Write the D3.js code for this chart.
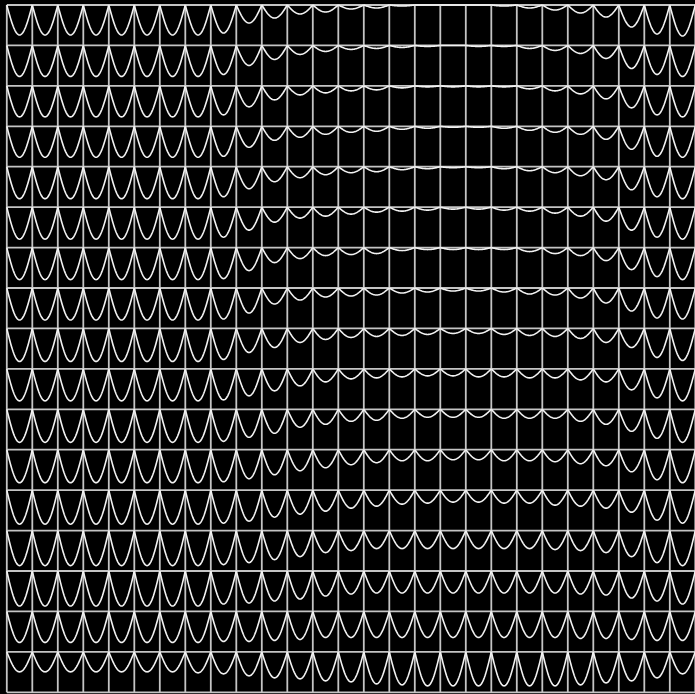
<!DOCTYPE html>
<html><head><meta charset="utf-8">
<script src="https://cdn.jsdelivr.net/npm/d3@7"></script>
<style>html,body{margin:0;padding:0;background:#000;overflow:hidden}</style>
</head><body>
<svg id="c" width="695" height="694"></svg>
<script>
// depth of the dip in each cell (0..40.4 = full cell height), rows top->bottom, cols left->right
const row00 = [30,30,30,30,30,30,30,30,28,18,13,9,7,4,3,1,0,0,0,1,3,5,8,12,22,29,31];
const row01 = [31,31,31,31,31,31,31,31,29,20,14,9,6,4,3,2,1,0,1,1,3,5,8,13,23,29,31];
const row02 = [31,31,31,31,31,31,31,31,29,21,14,9,7,5,4,2,1,1,1,1,3,5,8,13,22,29,31];
const row03 = [31,31,31,31,31,31,31,31,30,21,14,11,8,6,5,3,2,1,1,2,4,6,8,13,23,30,31];
const row04 = [32,32,32,32,32,32,32,32,30,22,15,11,8,6,5,3,2,1,1,2,4,6,9,13,23,30,32];
const row05 = [32,32,32,32,32,32,32,32,30,23,15,11,9,7,5,4,3,2,2,3,4,6,9,14,23,30,32];
const row06 = [32,32,32,32,32,32,32,32,31,23,15,11,8,7,6,3,2,2,2,2,4,6,8,13,22,29,32];
const row07 = [32,32,32,32,32,32,32,32,31,25,16,12,9,8,7,5,4,3,3,4,6,7,10,15,23,30,31];
const row08 = [33,33,33,33,33,33,33,33,31,24,19,14,11,9,8,7,6,5,5,6,7,8,10,14,19,29,32];
const row09 = [32,32,32,32,32,32,32,32,31,27,22,17,13,10,9,8,7,7,8,8,9,9,11,13,21,29,32];
const row10 = [33,33,33,33,33,33,33,33,32,28,24,18,15,12,11,9,8,8,8,9,9,9,12,15,22,29,33];
const row11 = [33,33,33,33,33,33,33,33,32,29,25,21,18,15,13,11,11,10,10,11,11,12,14,16,22,30,33];
const row12 = [34,34,34,34,34,34,34,34,33,31,27,24,21,18,16,14,13,12,12,13,13,15,16,18,22,30,33];
const row13 = [35,35,35,35,35,35,35,35,34,32,29,26,22,20,18,18,18,18,18,18,18,19,20,22,26,32,35];
const row14 = [35,35,35,35,35,35,35,35,33,32,30,28,25,23,22,22,22,22,22,22,22,22,23,24,27,30,33];
const row15 = [31,31,31,31,31,31,31,31,30,30,29,28,26,26,26,26,26,26,26,26,26,26,27,27,28,29,29];
const row16 = [20,20,20,20,20,20,20,21,22,24,26,27,29,30,32,33,34,34,34,34,34,34,33,31,29,26,22];
const depths = [row00,row01,row02,row03,row04,row05,row06,row07,row08,row09,row10,row11,row12,row13,row14,row15,row16];
const nRows = depths.length, nCols = row00.length;

const svg = d3.select("#c");
svg.append("rect").attr("width",695).attr("height",694).attr("fill","#000");

const x = d3.scaleLinear().domain([0,nCols]).range([6.8,695.3]);
const y = d3.scaleLinear().domain([0,nRows]).range([5,692.3]);
const cellH = y(1)-y(0);
const dScale = d3.scaleLinear().domain([0,40.4]).range([0,cellH]);

// grid
const g = svg.append("g");
g.selectAll("line.v").data(d3.range(nCols+1)).join("line")
  .attr("x1",d=>x(d)).attr("x2",d=>x(d)).attr("y1",y(0)).attr("y2",y(nRows))
  .attr("stroke","#c4c4c4").attr("stroke-width",1.8);
g.selectAll("line.h").data(d3.range(nRows+1)).join("line")
  .attr("y1",d=>y(d)).attr("y2",d=>y(d)).attr("x1",x(0)).attr("x2",x(nCols))
  .attr("stroke","#c4c4c4").attr("stroke-width",1.8);

const ts = d3.range(0,1.0001,1/40);
const line = d3.line().x(p=>p[0]).y(p=>p[1]);
const cells = [];
depths.forEach((row,r)=>row.forEach((d,c)=>cells.push({r,c,d})));
svg.append("g").selectAll("path").data(cells).join("path")
  .attr("d",cell=>{
    const pts = ts.map(t=>[x(cell.c+t), y(cell.r)+dScale(cell.d)*Math.sin(Math.PI*t)]);
    return line(pts);
  })
  .attr("fill","none").attr("stroke","#f2f2f2").attr("stroke-width",1.6);
</script>
</body></html>
